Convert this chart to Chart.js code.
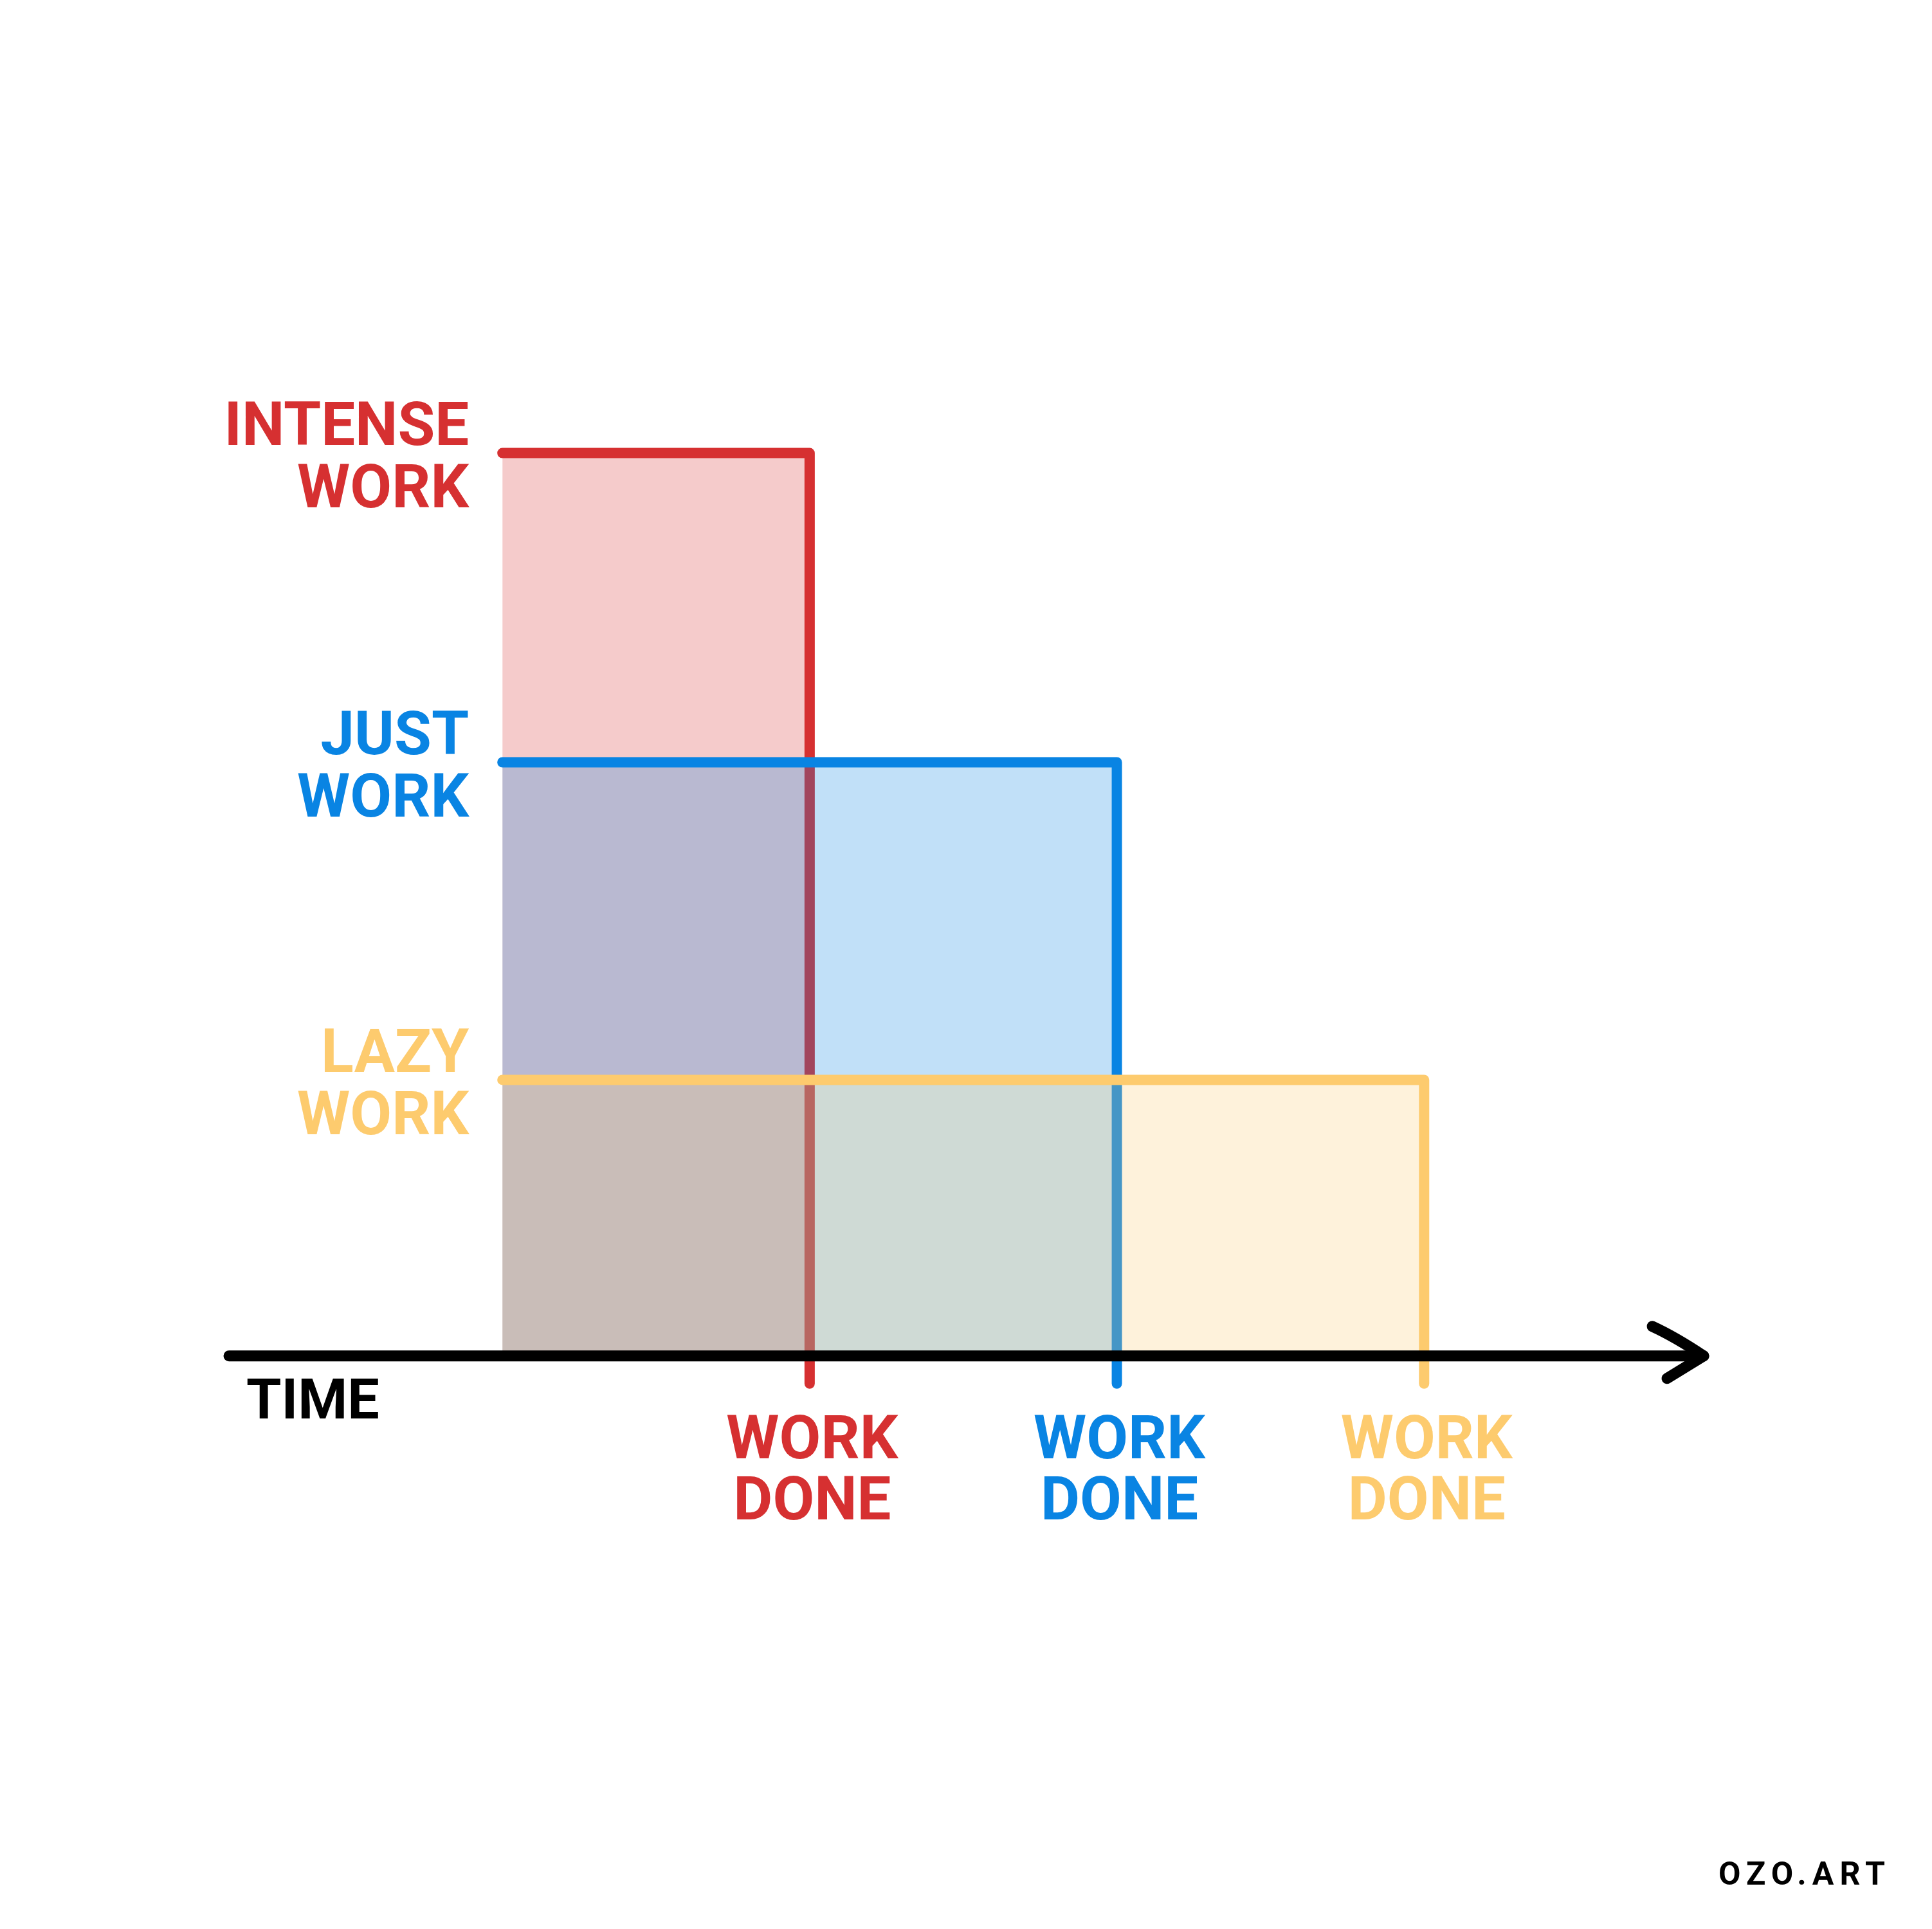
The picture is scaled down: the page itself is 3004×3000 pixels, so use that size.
<!DOCTYPE html>
<html>
<head>
<meta charset="utf-8">
<script src="https://cdn.jsdelivr.net/npm/chart.js@4.4.1/dist/chart.umd.min.js"></script>
<style>
  body { margin: 0; background: #ffffff; }
  #wrap { width: 3004px; height: 3000px; }
</style>
</head>
<body>
<div id="wrap"><canvas id="chart" width="3004" height="3000"></canvas></div>
<script>
// Work styles: how hard, and when the work is done
const levelNames = [["INTENSE", "WORK"], ["JUST", "WORK"], ["LAZY", "WORK"]]
const effort = [3.27, 2.15, 1.0]
const doneAt = [1, 2, 3]
const doneLabel = ["WORK", "DONE"]
const axisLabel = "TIME"
const credit = "OZO.ART"

// Colour of each style (stroke, then a see-through fill)
const lineColours = ["#d63031", "#0984e3", "#fdcb6e"]
const fillColours = ["rgba(214,48,49,0.25)", "rgba(9,132,227,0.25)", "rgba(253,203,110,0.25)"]

// how far the "done" line drops under the time axis
const dropBelow = -0.1

const FONT = "Roboto"

// one dataset per style, red drawn first and yellow on top
const datasets = effort.map((h, i) => ({
  label: levelNames[i].join(" "),
  data: [
    { x: 0, y: h },
    { x: doneAt[i], y: h },
    { x: doneAt[i], y: dropBelow },
  ],
  showLine: true,
  borderColor: lineColours[i],
  backgroundColor: fillColours[i],
  borderWidth: 16,
  borderCapStyle: "round",
  borderJoinStyle: "round",
  pointRadius: 0,
  tension: 0,
  fill: "origin",
  clip: false,
  order: effort.length - i,
}))

// Axis with arrow and the hand-lettered labels
const sketchPlugin = {
  id: "sketch",
  afterDatasetsDraw(chart) {
    const ctx = chart.ctx
    const y = chart.scales.y
    const y0 = y.getPixelForValue(0)
    const left = chart.chartArea.left
    const right = chart.chartArea.right
    ctx.save()
    ctx.strokeStyle = "#000000"
    ctx.lineWidth = 17
    ctx.lineCap = "round"
    ctx.lineJoin = "round"
    ctx.beginPath()
    ctx.moveTo(left, y0)
    ctx.lineTo(right, y0)
    ctx.stroke()
    // arrow head
    ctx.beginPath()
    ctx.moveTo(right - 80, y0 - 46)
    ctx.quadraticCurveTo(right - 45, y0 - 30, right, y0)
    ctx.lineTo(right - 57, y0 + 35)
    ctx.stroke()
    ctx.restore()
  },
  afterDraw(chart) {
    const ctx = chart.ctx
    const x = chart.scales.x
    const y = chart.scales.y
    const y0 = y.getPixelForValue(0)
    const x0 = x.getPixelForValue(0)
    ctx.save()
    ctx.font = "bold 94px " + FONT
    ctx.textBaseline = "middle"

    // level names, right aligned left of the bars
    ctx.textAlign = "right"
    effort.forEach((h, i) => {
      const py = y.getPixelForValue(h)
      ctx.fillStyle = lineColours[i]
      ctx.fillText(levelNames[i][0], x0 - 52, py - 36)
      ctx.fillText(levelNames[i][1], x0 - 52, py + 61)
    })

    // work done under each drop line
    ctx.textAlign = "center"
    doneAt.forEach((d, i) => {
      const px = x.getPixelForValue(d) + 4
      ctx.fillStyle = lineColours[i]
      ctx.fillText(doneLabel[0], px, y0 + 136)
      ctx.fillText(doneLabel[1], px, y0 + 231)
    })

    // axis name
    ctx.textAlign = "left"
    ctx.fillStyle = "#000000"
    ctx.font = "bold 88px " + FONT
    ctx.fillText(axisLabel, chart.chartArea.left + 27, y0 + 75)

    // credit
    ctx.font = "bold 50px " + FONT
    ctx.letterSpacing = "9px"
    ctx.textAlign = "right"
    ctx.fillText(credit, 2940, 2918)
    ctx.restore()
  },
}

new Chart(document.getElementById("chart"), {
  type: "scatter",
  data: { datasets: datasets },
  plugins: [sketchPlugin],
  options: {
    responsive: false,
    animation: false,
    layout: { padding: { left: 356, right: 355, top: 300, bottom: 600 } },
    plugins: {
      legend: { display: false },
      tooltip: { enabled: false },
    },
    scales: {
      x: { type: "linear", min: -0.89, max: 3.91, display: false },
      y: { type: "linear", min: -0.678, max: 4.212, display: false },
    },
  },
})
</script>
</body>
</html>
